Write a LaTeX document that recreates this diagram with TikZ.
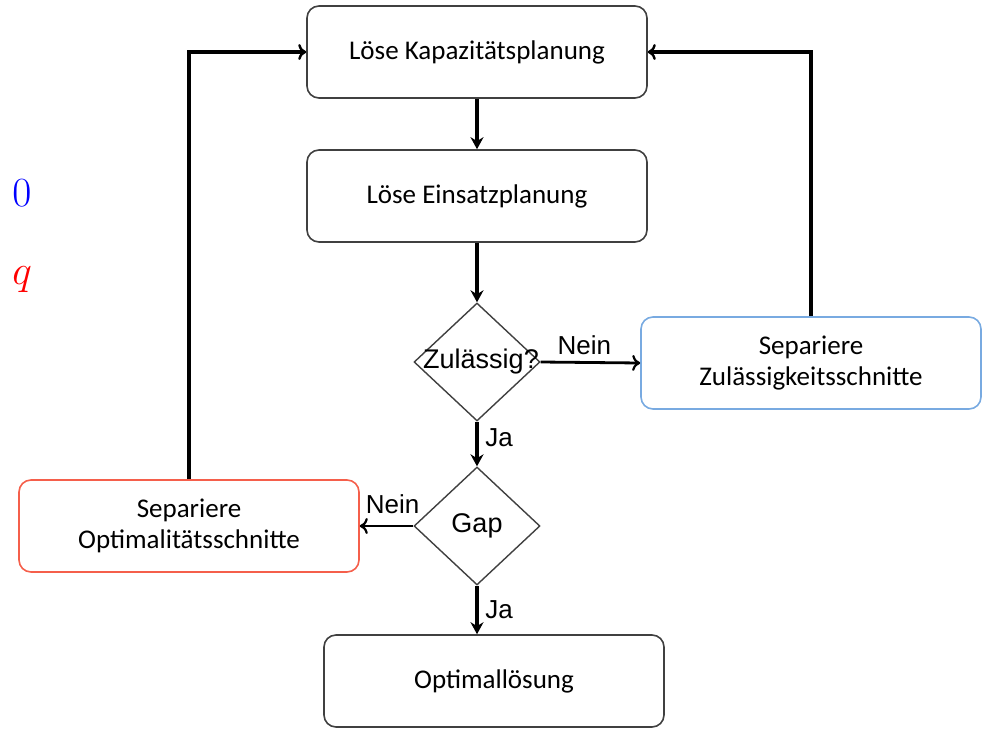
\documentclass[tikz,border=0pt]{standalone}
\usepackage{fontspec}
\usepackage{amsmath}
\usetikzlibrary{arrows.meta,shapes.geometric}
\newfontfamily\boxfont{Carlito}
\newfontfamily\lblfont{Liberation Sans}
\definecolor{boxgray}{RGB}{64,64,64}
\definecolor{zulblue}{RGB}{120,170,225}
\definecolor{optred}{RGB}{245,95,75}
\tikzset{
    stepbox/.style={draw=boxgray,line width=0.8pt,rounded corners=6pt,minimum width=170pt,minimum height=46pt,align=center,font=\boxfont\fontsize{13.5}{15.5}\selectfont},
    decide/.style={draw=boxgray,diamond,line width=0.7pt,inner sep=0pt,minimum width=63pt,minimum height=59pt},
    lbl/.style={font=\lblfont\fontsize{13}{15}\selectfont},
    flow/.style={line width=1.6pt,-{Stealth[length=6pt,width=6.5pt]}},
    loop/.style={line width=1.6pt,-{To[length=4pt,width=8pt,line width=1.2pt]}},
    side/.style={line width=1.4pt,-{To[length=4pt,width=8pt,line width=1.1pt]}}
}
\begin{document}
\begin{tikzpicture}[x=0.5pt,y=-0.5pt]
\useasboundingbox (0,0) rectangle (984,728);
\node[stepbox] (kap) at (477,52) {Löse Kapazitätsplanung};
\node[stepbox] (ein) at (477,196) {Löse Einsatzplanung};
\node[decide,label={[font=\lblfont\fontsize{13.5}{15}\selectfont,xshift=2pt]center:Zulässig?}] (zul) at (477,362) {};
\node[stepbox,draw=zulblue] (zs) at (811,363) {Separiere\\Zulässigkeitsschnitte};
\node[decide,label={[font=\lblfont\fontsize{13.5}{15}\selectfont]center:Gap}] (gap) at (477,526) {};
\node[stepbox,draw=optred] (os) at (189,526) {Separiere\\Optimalitätsschnitte};
\node[stepbox] (opt) at (494,681) {Optimallösung};
\node[text=blue,font=\fontsize{22}{26}\selectfont] (nullwert) at (22,193) {$0$};
\node[text=red,font=\fontsize{22}{26}\selectfont] (qwert) at (22,280) {$q$};
\draw[flow]
    (kap) -- (ein);
\draw[flow]
    (ein) -- (zul);
\draw[side]
    (zul.east) -- (zs.west) node[midway,above,lbl,xshift=-3pt] {Nein};
\draw[flow]
    (zul.south) -- (gap.north) node[midway,right,lbl,yshift=3pt] {Ja};
\draw[side]
    (gap.west) -- (os.east) node[midway,above,lbl,xshift=3pt,yshift=2pt] {Nein};
\draw[flow]
    (gap.south) -- (gap.south |- opt.north) node[midway,right,lbl] {Ja};
\draw[loop]
    (zs.north) |- (kap.east);
\draw[loop]
    (os.north) |- (kap.west);
\end{tikzpicture}
\end{document}
